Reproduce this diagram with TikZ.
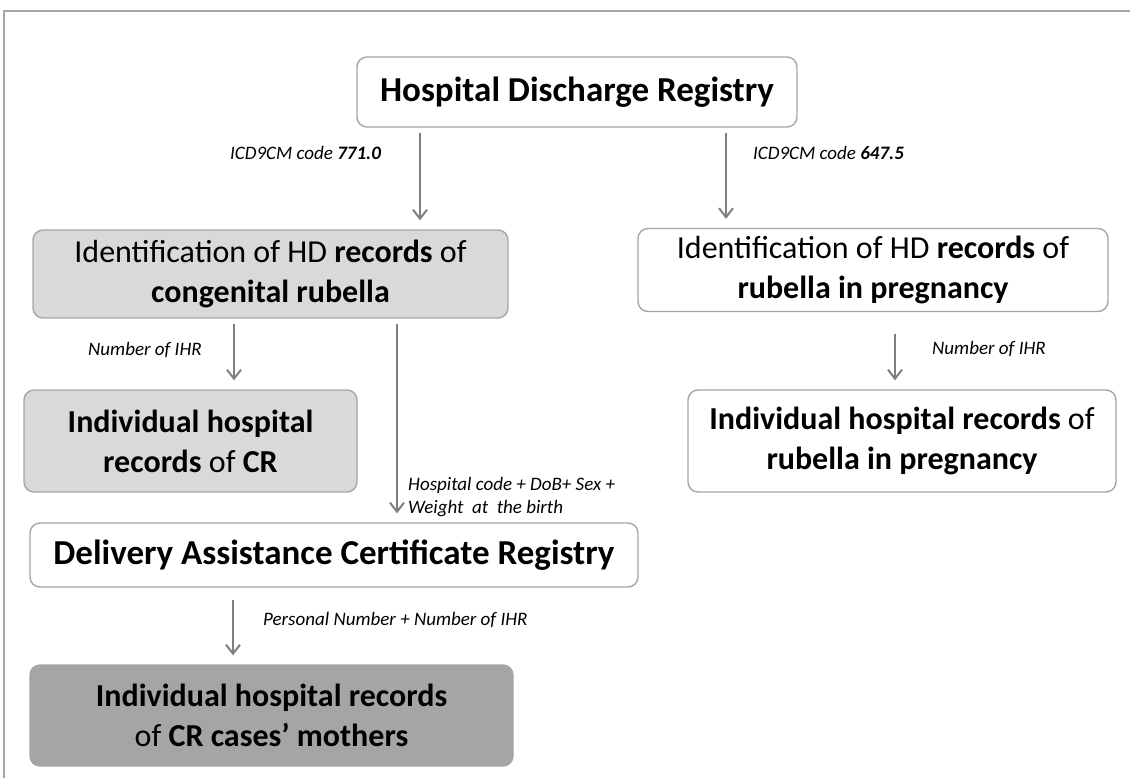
\documentclass[tikz,border=0pt]{standalone}
\usepackage{fontspec}
\setmainfont{Carlito}
\usetikzlibrary{arrows.meta}
\definecolor{boxline}{HTML}{A6A6A6}
\definecolor{arrowgray}{HTML}{7F7F7F}
\definecolor{lightfill}{HTML}{D9D9D9}
\definecolor{darkfill}{HTML}{A5A5A5}
\begin{document}
\begin{tikzpicture}[x=1pt,y=-1pt,
  box/.style={draw=boxline, line width=1.4pt, rounded corners=10pt, align=center, inner sep=0pt,
     font=\fontsize{32}{40}\selectfont},
  bigbox/.style={box, font=\fontsize{35}{42}\selectfont},
  arr/.style={draw=arrowgray, line width=2pt, -{Straight Barb[length=9pt,width=14pt,line width=2pt]},
     shorten <=5pt, shorten >=9pt},
  lab/.style={anchor=west, inner sep=0pt, font=\fontsize{19}{23}\selectfont\itshape, align=left}]
\useasboundingbox (0,0) rectangle (1130,778);
\fill[white] (0,0) rectangle (1130,778);
\draw[boxline, line width=1.5pt] (4,778) -- (4,11) -- (1130,11);

\node[bigbox, fill=white, minimum width=440pt, minimum height=70pt] (hdr) at (577,92) {\textbf{Hospital Discharge Registry}};
\node[box, fill=lightfill, minimum width=475pt, minimum height=88pt] (idl) at (270.5,274) {Identification of HD \textbf{records} of\\\textbf{congenital rubella}};
\node[box, fill=white, minimum width=470pt, minimum height=83pt] (idr) at (873,270) {Identification of HD \textbf{records} of\\\textbf{rubella in pregnancy}};
\node[box, fill=lightfill, minimum width=333pt, minimum height=102pt] (cr) at (190.5,441) {\textbf{Individual hospital}\\\textbf{records} of \textbf{CR}};
\node[box, fill=white, minimum width=428pt, minimum height=102pt] (rp) at (902,441) {\textbf{Individual hospital records} of\\\textbf{rubella in pregnancy}};
\node[bigbox, fill=white, minimum width=608pt, minimum height=64pt] (dacr) at (334,555) {\textbf{Delivery Assistance Certificate Registry}};
\node[box, fill=darkfill, minimum width=483pt, minimum height=101pt] (mom) at (271.5,715.5) {\textbf{Individual hospital records}\\of \textbf{CR cases’ mothers}};

\coordinate (c1) at (420,0);
\coordinate (c2) at (726,0);
\coordinate (c3) at (234,0);
\coordinate (c4) at (397,0);
\coordinate (c5) at (895,0);
\coordinate (c6) at (233,0);

\draw[arr] (hdr.south -| c1) -- (idl.north -| c1);
\draw[arr] (hdr.south -| c2) -- (idr.north -| c2);
\draw[arr] (idl.south -| c3) -- (cr.north -| c3);
\draw[arr] (idl.south -| c4) -- (dacr.north -| c4);
\draw[arr, shorten <=22pt] (idr.south -| c5) -- (rp.north -| c5);
\draw[arr, shorten <=12pt] (dacr.south -| c6) -- (mom.north -| c6);

\node[lab] (l1) at (230,153) {ICD9CM code \textbf{771.0}};
\node[lab] (l2) at (753,153) {ICD9CM code \textbf{647.5}};
\node[lab] (l3) at (88,350) {Number of IHR};
\node[lab] (l4) at (932,349) {Number of IHR};
\node[lab] (l5) at (408,497) {Hospital code + DoB+ Sex +\\Weight\ \ at\ \ the birth};
\node[lab] (l6) at (263,620) {Personal Number + Number of IHR};
\end{tikzpicture}
\end{document}
